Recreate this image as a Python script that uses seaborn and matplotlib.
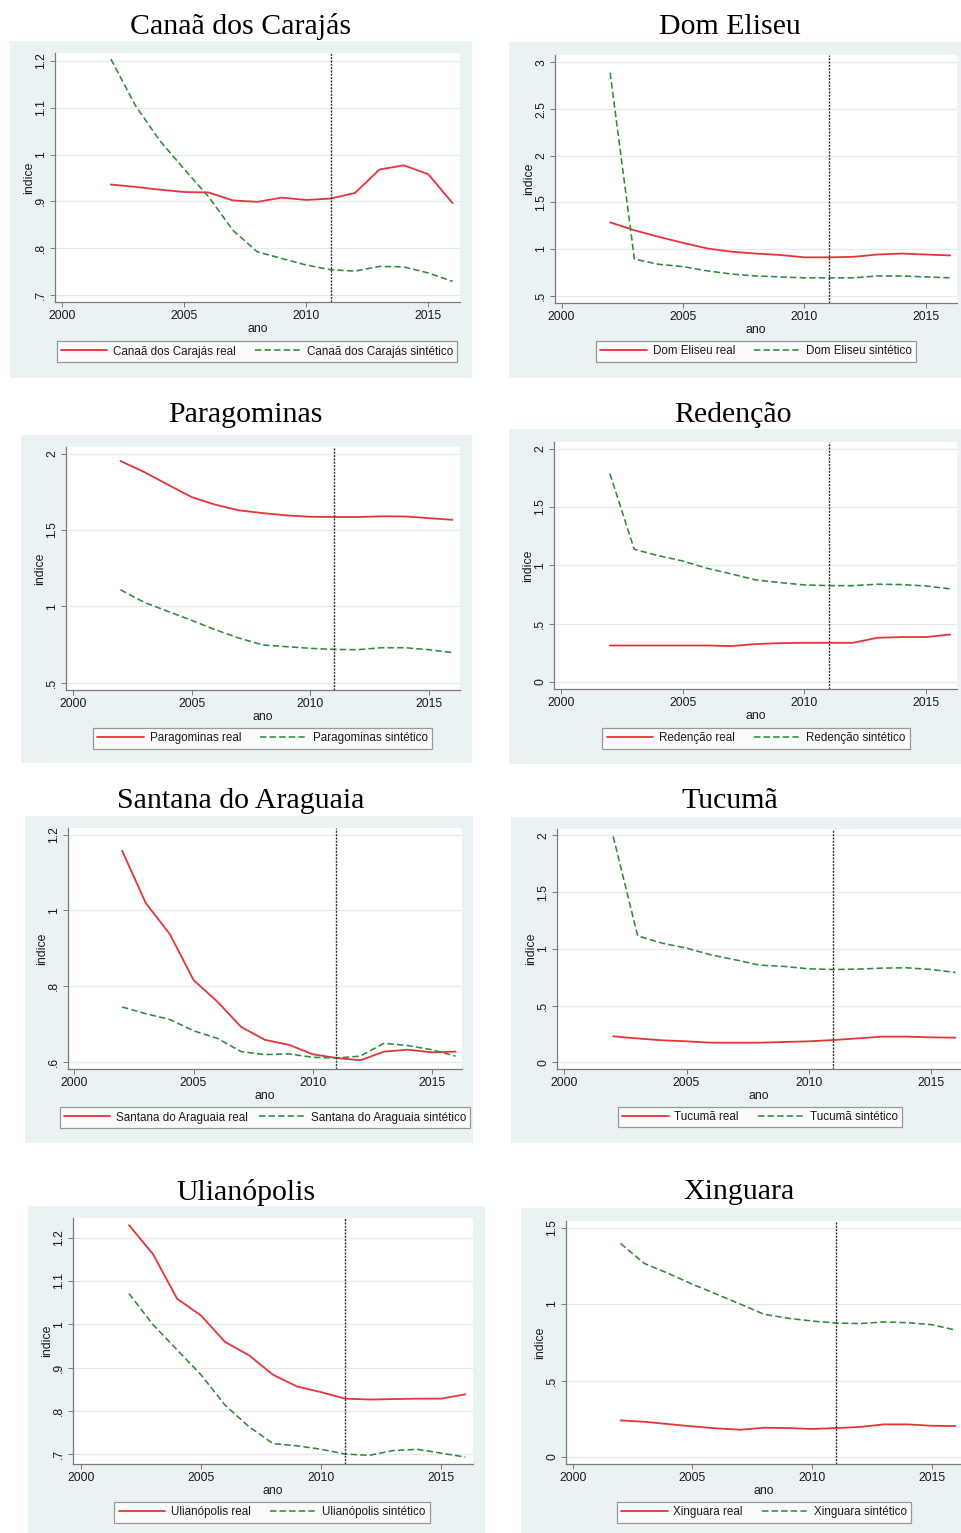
import matplotlib
matplotlib.use('Agg')
import matplotlib.pyplot as plt
import seaborn as sns
import pandas as pd
from matplotlib.lines import Line2D

sns.set_theme(style='white')
plt.rcParams['font.family'] = ['Liberation Sans', 'DejaVu Sans']

W, H = 961, 1533

years = list(range(2002, 2017))
treat_year = 2011
xticks = [2000, 2005, 2010, 2015]

# values, 2002..2016
canaa_real = [0.936, 0.931, 0.925, 0.920, 0.919, 0.902, 0.899, 0.908, 0.903, 0.906, 0.918, 0.968, 0.977, 0.958, 0.896]
canaa_sint = [1.204, 1.105, 1.030, 0.969, 0.910, 0.838, 0.792, 0.778, 0.764, 0.754, 0.751, 0.761, 0.760, 0.747, 0.729]
domeliseu_real = [1.285, 1.200, 1.130, 1.065, 1.005, 0.970, 0.950, 0.935, 0.910, 0.910, 0.915, 0.940, 0.950, 0.940, 0.930]
domeliseu_sint = [2.890, 0.890, 0.835, 0.810, 0.765, 0.730, 0.710, 0.700, 0.690, 0.690, 0.690, 0.710, 0.710, 0.700, 0.690]
paragominas_real = [1.952, 1.880, 1.797, 1.716, 1.666, 1.629, 1.611, 1.596, 1.587, 1.585, 1.585, 1.590, 1.589, 1.578, 1.567]
paragominas_sint = [1.109, 1.026, 0.967, 0.908, 0.847, 0.792, 0.747, 0.736, 0.725, 0.718, 0.716, 0.729, 0.729, 0.716, 0.697]
redencao_real = [0.313, 0.313, 0.313, 0.313, 0.313, 0.308, 0.325, 0.333, 0.336, 0.336, 0.336, 0.379, 0.385, 0.385, 0.407]
redencao_sint = [1.786, 1.137, 1.083, 1.037, 0.974, 0.926, 0.875, 0.852, 0.832, 0.826, 0.826, 0.838, 0.835, 0.823, 0.798]
santana_real = [1.158, 1.019, 0.938, 0.816, 0.759, 0.692, 0.658, 0.645, 0.620, 0.610, 0.604, 0.627, 0.632, 0.625, 0.627]
santana_sint = [0.745, 0.727, 0.712, 0.682, 0.662, 0.627, 0.619, 0.621, 0.612, 0.610, 0.615, 0.649, 0.643, 0.632, 0.615]
tucuma_real = [0.229, 0.210, 0.194, 0.185, 0.173, 0.173, 0.173, 0.179, 0.185, 0.196, 0.211, 0.226, 0.226, 0.220, 0.217]
tucuma_sint = [1.990, 1.114, 1.050, 1.006, 0.947, 0.903, 0.856, 0.845, 0.824, 0.818, 0.821, 0.830, 0.833, 0.818, 0.792]
ulianopolis_real = [1.229, 1.162, 1.059, 1.020, 0.959, 0.928, 0.883, 0.856, 0.843, 0.828, 0.826, 0.827, 0.828, 0.828, 0.838]
ulianopolis_sint = [1.071, 0.999, 0.941, 0.883, 0.813, 0.763, 0.724, 0.719, 0.711, 0.700, 0.697, 0.708, 0.711, 0.702, 0.693]
xinguara_real = [0.239, 0.230, 0.215, 0.200, 0.187, 0.178, 0.191, 0.189, 0.183, 0.189, 0.196, 0.213, 0.213, 0.204, 0.202]
xinguara_sint = [1.396, 1.265, 1.200, 1.130, 1.065, 1.000, 0.933, 0.907, 0.889, 0.876, 0.872, 0.883, 0.878, 0.865, 0.830]

names = ['Canaã dos Carajás', 'Dom Eliseu', 'Paragominas', 'Redenção',
         'Santana do Araguaia', 'Tucumã', 'Ulianópolis', 'Xinguara']
reals = [canaa_real, domeliseu_real, paragominas_real, redencao_real,
         santana_real, tucuma_real, ulianopolis_real, xinguara_real]
sints = [canaa_sint, domeliseu_sint, paragominas_sint, redencao_sint,
         santana_sint, tucuma_sint, ulianopolis_sint, xinguara_sint]
yticks = [[0.7, 0.8, 0.9, 1.0, 1.1, 1.2],
          [0.5, 1.0, 1.5, 2.0, 2.5, 3.0],
          [0.5, 1.0, 1.5, 2.0],
          [0.0, 0.5, 1.0, 1.5, 2.0],
          [0.6, 0.8, 1.0, 1.2],
          [0.0, 0.5, 1.0, 1.5, 2.0],
          [0.7, 0.8, 0.9, 1.0, 1.1, 1.2],
          [0.0, 0.5, 1.0, 1.5]]
ytick_labels = [['.7', '.8', '.9', '1', '1.1', '1.2'],
                ['.5', '1', '1.5', '2', '2.5', '3'],
                ['.5', '1', '1.5', '2'],
                ['0', '.5', '1', '1.5', '2'],
                ['.6', '.8', '1', '1.2'],
                ['0', '.5', '1', '1.5', '2'],
                ['.7', '.8', '.9', '1', '1.1', '1.2'],
                ['0', '.5', '1', '1.5']]

# layout in pixels: background box, plot box, legend centre, title centre, limits
layout = [
    dict(bg=(10, 41, 472, 378), pl=(55, 53, 460, 302), leg=(257, 351.5), tit=(241, 27), xl=(1999.71, 2016.3), yl=(0.685, 1.217), cs=1.6),
    dict(bg=(509, 42, 961, 378), pl=(555, 55, 957, 303), leg=(756, 351.5), tit=(730, 27), xl=(1999.73, 2016.28), yl=(0.42, 3.08), cs=1.6),
    dict(bg=(21, 435, 472, 763), pl=(66, 447, 460, 690), leg=(262.5, 738.5), tit=(245, 415), xl=(1999.7, 2016.32), yl=(0.452, 2.044), cs=1.6),
    dict(bg=(509, 429, 961, 764), pl=(554, 442, 957, 689), leg=(756, 738.5), tit=(733, 415), xl=(1999.7, 2016.28), yl=(-0.06, 2.057), cs=1.6),
    dict(bg=(25, 816, 473, 1143), pl=(68, 828, 462, 1069), leg=(265, 1117.5), tit=(241, 801), xl=(1999.73, 2016.27), yl=(0.581, 1.218), cs=0.9),
    dict(bg=(511, 817, 961, 1143), pl=(557, 829, 961, 1069), leg=(760, 1117), tit=(730, 801), xl=(1999.7, 2016.23), yl=(-0.059, 2.056), cs=1.6),
    dict(bg=(28, 1206, 485, 1533), pl=(73, 1218, 473, 1464), leg=(272, 1512.5), tit=(246, 1192), xl=(1999.67, 2016.32), yl=(0.677, 1.2455), cs=1.6),
    dict(bg=(521, 1208, 961, 1533), pl=(566, 1221, 961, 1464), leg=(764, 1512.5), tit=(739, 1192), xl=(1999.72, 2016.23), yl=(-0.046, 1.543), cs=1.6),
]

RED = '#e8333a'
GREEN = '#2e8b3a'
BG = '#eaf2f3'
AXC = '#7a7a7a'


def rect(box):
    x0, y0, x1, y1 = box
    return [x0 / W, 1 - y1 / H, (x1 - x0) / W, (y1 - y0) / H]


fig = plt.figure(figsize=(W / 100, H / 100), dpi=100)
fig.patch.set_facecolor('white')

for i, name in enumerate(names):
    lay = layout[i]
    bg = fig.add_axes(rect(lay['bg']), zorder=0)
    bg.set_facecolor(BG)
    bg.set_xticks([])
    bg.set_yticks([])
    for s in bg.spines.values():
        s.set_visible(False)

    ax = fig.add_axes(rect(lay['pl']), zorder=1)
    ax.set_facecolor('white')
    df = pd.DataFrame({'ano': years, 'real': reals[i], 'sint': sints[i]})
    sns.lineplot(data=df, x='ano', y='real', ax=ax, color=RED, lw=1.3, legend=False)
    sns.lineplot(data=df, x='ano', y='sint', ax=ax, color=GREEN, lw=1.15, legend=False)
    ax.lines[1].set_linestyle((0, (4, 2)))
    ax.axvline(treat_year, color='#303030', lw=1.0, ls=(0, (1.5, 0.9)))

    ax.set_xlim(*lay['xl'])
    ax.set_ylim(*lay['yl'])
    ax.set_xticks(xticks)
    ax.set_xticklabels([str(t) for t in xticks])
    ax.set_yticks(yticks[i])
    ax.set_yticklabels(ytick_labels[i], rotation=90, va='center')
    ax.grid(axis='y', color='#e2eaec', lw=0.9)
    ax.grid(axis='x', visible=False)
    ax.set_axisbelow(True)
    for side in ['top', 'right']:
        ax.spines[side].set_visible(False)
    for side in ['left', 'bottom']:
        ax.spines[side].set_color(AXC)
        ax.spines[side].set_linewidth(0.9)
    ax.tick_params(direction='out', length=3.5, width=0.7, color=AXC,
                   labelsize=8.8, labelcolor='#1a1a1a', pad=2,
                   left=True, bottom=True)
    ax.set_xlabel('ano', fontsize=8.8, color='#1a1a1a', labelpad=1)
    ax.set_ylabel('indice', fontsize=8.8, color='#1a1a1a', labelpad=0.5)

    handles = [Line2D([], [], color=RED, lw=1.3),
               Line2D([], [], color=GREEN, lw=1.15, ls=(0, (4, 2)))]
    leg = ax.legend(handles, [name + ' real', name + ' sintético'],
                    loc='center', ncol=2,
                    bbox_to_anchor=(lay['leg'][0] / W, 1 - lay['leg'][1] / H),
                    bbox_transform=fig.transFigure,
                    frameon=True, fancybox=False, fontsize=8.4,
                    handlelength=4, handletextpad=0.5, columnspacing=lay['cs'],
                    borderpad=0.35, borderaxespad=0)
    leg.get_frame().set_edgecolor('#808080')
    leg.get_frame().set_linewidth(0.9)
    for t in leg.get_texts():
        t.set_color('#1a1a1a')

    fig.text(lay['tit'][0] / W, 1 - lay['tit'][1] / H, name, ha='center', va='center',
             family=['Liberation Serif', 'DejaVu Serif'], fontsize=21.5, color='black')

fig.savefig('out.png', dpi=100)
